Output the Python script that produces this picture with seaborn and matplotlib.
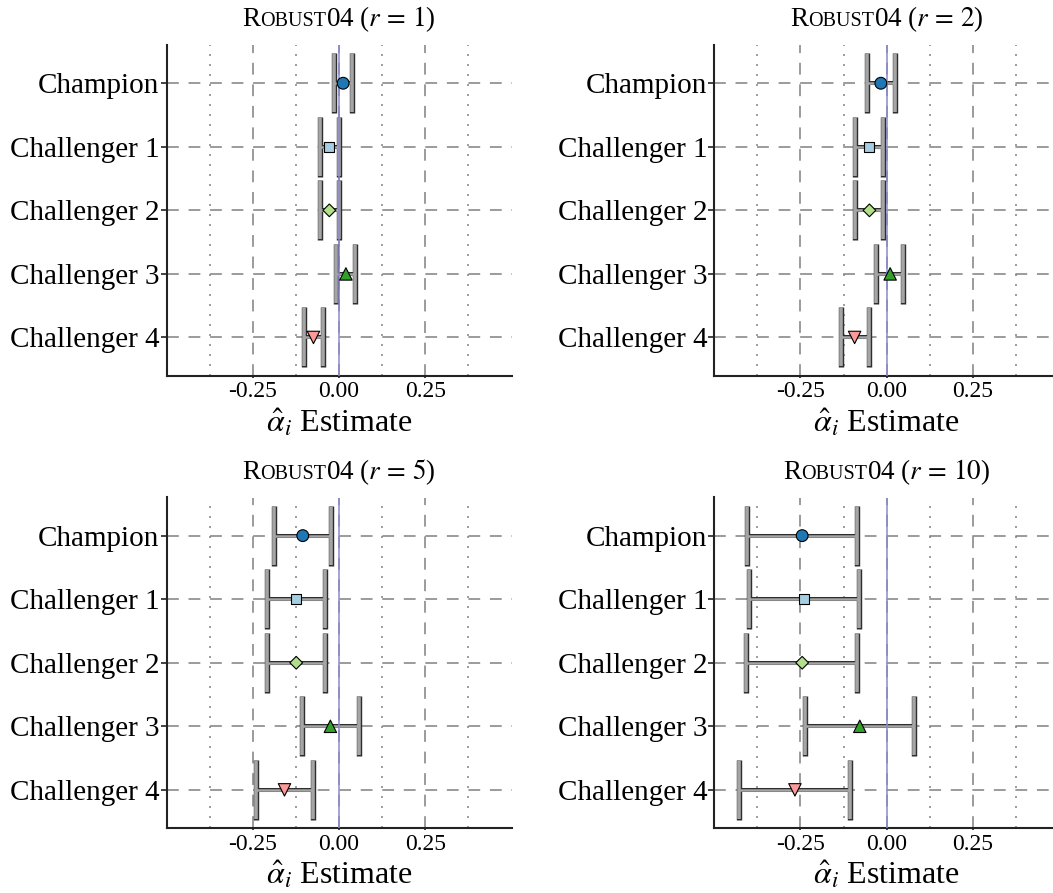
import numpy as np
import pandas as pd
import matplotlib
matplotlib.use("Agg")
import matplotlib.pyplot as plt
import seaborn as sns
from matplotlib.offsetbox import TextArea, HPacker, AnnotationBbox

# ---- data -------------------------------------------------------------
systems = ["Champion", "Challenger 1", "Challenger 2", "Challenger 3", "Challenger 4"]
r_values = [1, 2, 5, 10]

est_r1 = [0.012, -0.028, -0.028, 0.020, -0.074]
lo_r1 = [-0.015, -0.054, -0.054, -0.008, -0.101]
hi_r1 = [0.038, -0.001, 0.000, 0.047, -0.046]

est_r2 = [-0.017, -0.050, -0.050, 0.010, -0.093]
lo_r2 = [-0.056, -0.091, -0.091, -0.030, -0.132]
hi_r2 = [0.023, -0.011, -0.011, 0.048, -0.052]

est_r5 = [-0.105, -0.124, -0.124, -0.025, -0.158]
lo_r5 = [-0.188, -0.208, -0.209, -0.108, -0.242]
hi_r5 = [-0.022, -0.040, -0.041, 0.057, -0.074]

est_r10 = [-0.245, -0.240, -0.245, -0.078, -0.266]
lo_r10 = [-0.405, -0.400, -0.407, -0.238, -0.428]
hi_r10 = [-0.086, -0.080, -0.086, 0.080, -0.105]

xtick_values = [-0.25, 0.0, 0.25]
xtick_labels = ["-0.25", "0.00", "0.25"]
minor_values = [-0.375, -0.125, 0.125, 0.375]

panels = {
    1: (est_r1, lo_r1, hi_r1),
    2: (est_r2, lo_r2, hi_r2),
    5: (est_r5, lo_r5, hi_r5),
    10: (est_r10, lo_r10, hi_r10),
}

# ---- style ------------------------------------------------------------
sns.set_theme(style="ticks")
plt.rcParams.update({
    "font.family": ["Liberation Serif", "DejaVu Serif"],
    "mathtext.fontset": "stix",
    "lines.scale_dashes": False,
    "text.color": "black",
    "axes.labelcolor": "black",
    "axes.edgecolor": "#222222",
    "axes.linewidth": 1.5,
    "xtick.color": "#222222",
    "ytick.color": "#222222",
    "xtick.labelcolor": "black",
    "ytick.labelcolor": "black",
})

pal = sns.color_palette("Paired")
colors = dict(zip(systems, [pal[1], pal[0], pal[2], pal[3], pal[4]]))
markers = dict(zip(systems, ["o", "s", "D", "^", "v"]))
sizes = dict(zip(systems, [72, 52, 42, 80, 80]))

GRID_C = "#808080"
DASH = (0, (8.5, 7))
DOT = (0, (1.4, 5.8))

fig = plt.figure(figsize=(10.53, 8.93), dpi=100)

W, H = 1053, 893
ax_w, ax_h = 345 / W, 330.5 / H
lefts = [166.5 / W, 714.2 / W]
bottoms = [1 - 375.6 / H, 1 - 828.0 / H]
boxes = [
    (lefts[0], bottoms[0]), (lefts[1], bottoms[0]),
    (lefts[0], bottoms[1]), (lefts[1], bottoms[1]),
]

pos = np.arange(len(systems))

for (l, b), r in zip(boxes, r_values):
    est, lo, hi = (np.asarray(a) for a in panels[r])
    ax = fig.add_axes([l, b, ax_w, ax_h])
    ax.set_axisbelow(True)

    xerr = [est - lo, hi - est]
    # dark outline pass, then grey fill pass on top
    ax.errorbar(est, pos, xerr=xerr, fmt="none", ecolor="#2e2e2e",
                elinewidth=2.9, capsize=21.9, capthick=3.9, zorder=2)
    ax.errorbar(est, pos, xerr=xerr, fmt="none", ecolor="#a5a5a5",
                elinewidth=1.8, capsize=21.2, capthick=2.6, zorder=2.1)

    ax.axvline(0, color="#8a8ad0", lw=1.1, zorder=3)

    df = pd.DataFrame({"system": systems, "estimate": est, "pos": pos})
    sns.scatterplot(data=df, x="estimate", y="pos", hue="system",
                    style="system", size="system", palette=colors,
                    markers=markers, sizes=sizes, edgecolor="black",
                    linewidth=0.8, legend=False, ax=ax, zorder=4)

    ax.set_xlim(-0.5, 0.5)
    ax.set_ylim(len(systems) - 1 + 0.6, -0.6)
    ax.set_yticks(pos, systems, fontsize=21)
    ax.set_xticks(xtick_values, xtick_labels, fontsize=17)
    ax.set_xticks(minor_values, minor=True)
    ax.tick_params(axis="y", length=4.5, width=1.2, pad=0.5)
    ax.tick_params(axis="x", which="major", length=1.5, width=1.2, pad=2.5)
    ax.tick_params(axis="x", which="minor", length=0)

    ax.grid(True, which="major", axis="x", color=GRID_C, lw=1.1, ls=DASH)
    ax.grid(True, which="minor", axis="x", color=GRID_C, lw=1.1, ls=DOT)
    ax.grid(True, which="major", axis="y", color=GRID_C, lw=1.1, ls=DASH)

    ax.set_ylabel("")
    ax.set_xlabel(r"$\hat{\alpha}_i$ Estimate", fontsize=23, labelpad=3.5)
    sns.despine(ax=ax)

    # small-caps style title
    parts = [
        TextArea("R", textprops=dict(fontsize=19.5, color="black")),
        TextArea("OBUST", textprops=dict(fontsize=14.5, color="black")),
        TextArea(f"04 ($r\\,=\\,{r}$)", textprops=dict(fontsize=19.5, color="black")),
    ]
    box = HPacker(children=parts, align="baseline", pad=0, sep=0)
    ab = AnnotationBbox(box, (0.5, 1.033), xycoords="axes fraction",
                        box_alignment=(0.5, 0.0), frameon=False, pad=0,
                        annotation_clip=False)
    ax.add_artist(ab)

fig.savefig("out.png", dpi=100)
